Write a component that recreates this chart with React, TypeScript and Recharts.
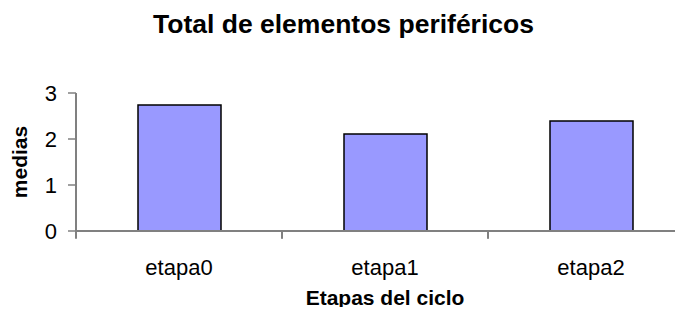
import React from 'react';
import { BarChart, Bar, XAxis, YAxis, ReferenceLine } from 'recharts';

const title = 'Total de elementos periféricos';
const xTitle = 'Etapas del ciclo';
const yTitle = 'medias';
const categories = ['etapa0', 'etapa1', 'etapa2'];
const medias = [2.74, 2.11, 2.39];
const yTicks = [0, 1, 2, 3];
// category boundaries: start of each band plus end of the last one
const boundaries: { cat: string; pos: 'start' | 'end' }[] = [
  ...categories.map((cat) => ({ cat, pos: 'start' as const })),
  { cat: categories[categories.length - 1], pos: 'end' as const },
];
const tickDepth = -0.17; // boundary tick length below the axis, in axis units

const data = categories.map((name, i) => ({ name, value: medias[i] }));

const FONT = '"Liberation Sans", Arial, sans-serif';

export default function App() {
  return (
    <div
      style={{
        position: 'relative',
        width: 683,
        height: 315,
        margin: -8,
        overflow: 'hidden',
        background: '#fff',
        fontFamily: FONT,
      }}
    >
      <div
        style={{
          position: 'absolute',
          top: 11,
          left: 0,
          width: 687,
          textAlign: 'center',
          fontSize: 26.5,
          lineHeight: '26px',
          fontWeight: 'bold',
          color: '#000',
          whiteSpace: 'nowrap',
        }}
      >
        {title}
      </div>
      <div style={{ position: 'absolute', top: 0, left: 0 }}>
        <BarChart
          width={700}
          height={315}
          data={data}
          margin={{ top: 93, right: 6, bottom: 0, left: 0 }}
          style={{ fontFamily: FONT }}
        >
          <XAxis
            dataKey="name"
            height={84}
            tickLine={false}
            axisLine={{ stroke: '#808080', strokeWidth: 2 }}
            tickSize={8}
            tickMargin={20}
            interval={0}
            tick={{ fontSize: 22, fill: '#000', fontFamily: FONT }}
            label={{
              value: xTitle,
              position: 'insideBottom',
              offset: 10,
              fill: '#000',
              fontSize: 21,
              fontWeight: 'bold',
              fontFamily: FONT,
            }}
          />
          <YAxis
            width={76}
            domain={[0, 3]}
            ticks={yTicks}
            interval={0}
            tickSize={8}
            tickMargin={11}
            tick={{ fontSize: 22, fill: '#000', fontFamily: FONT }}
            tickLine={{ stroke: '#808080', strokeWidth: 1.5 }}
            axisLine={{ stroke: '#808080', strokeWidth: 2 }}
            label={{
              value: yTitle,
              angle: -90,
              position: 'insideLeft',
              offset: 20,
              fill: '#000',
              fontSize: 21,
              fontWeight: 'bold',
              fontFamily: FONT,
              style: { textAnchor: 'middle' },
            }}
          />
          <Bar
            dataKey="value"
            barSize={83}
            fill="#9999FF"
            stroke="#000"
            strokeWidth={1.5}
            isAnimationActive={false}
          />
          {boundaries.map((b, i) => (
            <ReferenceLine
              key={i}
              segment={[
                { x: b.cat, y: 0 },
                { x: b.cat, y: tickDepth },
              ]}
              position={b.pos}
              ifOverflow="visible"
              stroke={i === 0 ? '#808080' : '#000'}
              strokeWidth={i === 0 ? 2 : 1}
            />
          ))}
        </BarChart>
      </div>
    </div>
  );
}
